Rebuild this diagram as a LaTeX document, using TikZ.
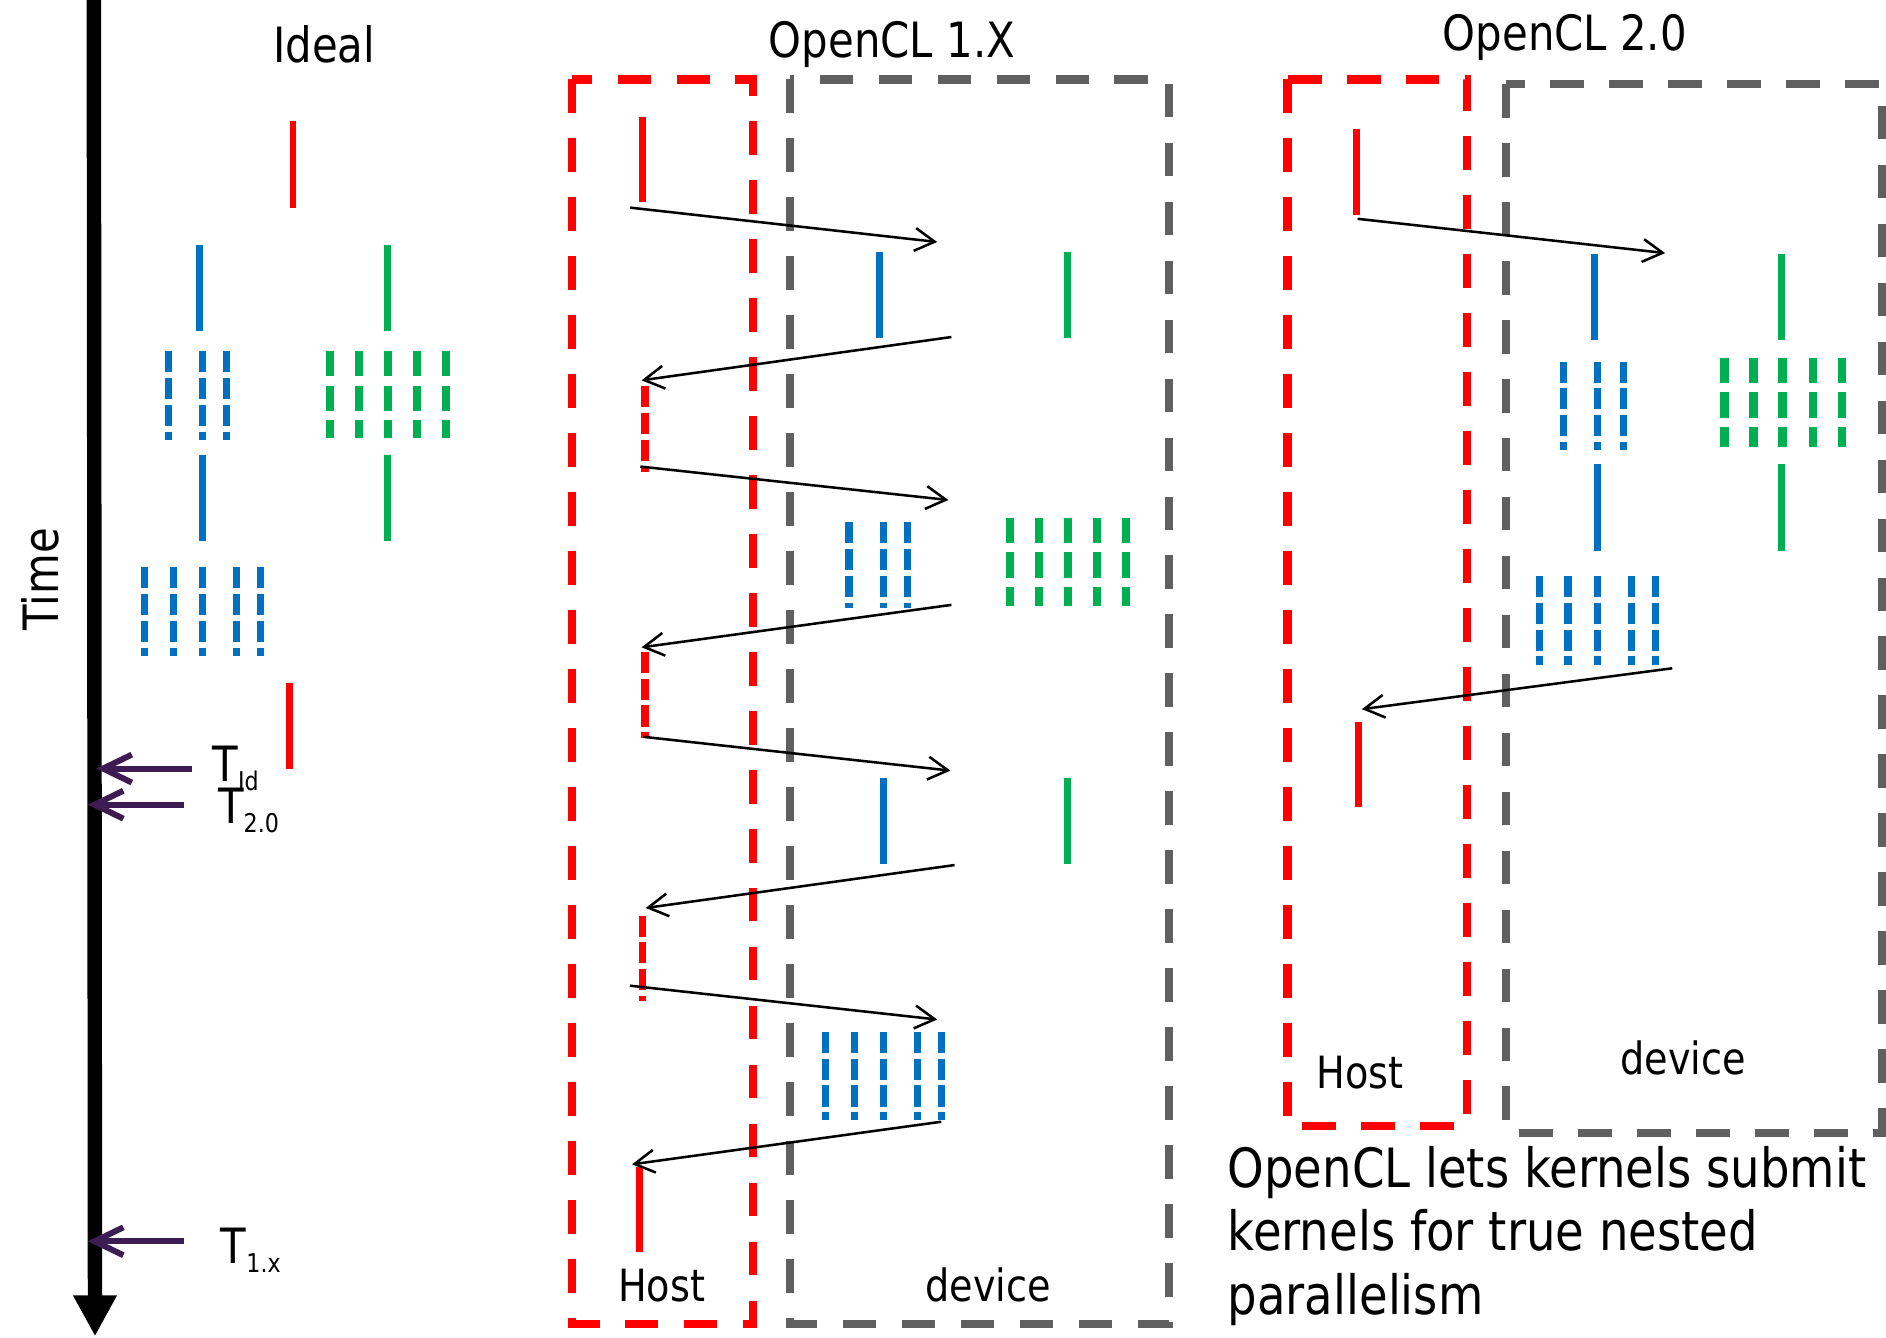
\documentclass[tikz,border=0pt]{standalone}
\usepackage{fontspec}
\setmainfont{DejaVu Sans}[FakeStretch=0.86]
\usepackage{tikz}
\usetikzlibrary{arrows.meta, positioning}

\definecolor{kred}{RGB}{255,0,0}
\definecolor{kblue}{RGB}{0,112,192}
\definecolor{kgreen}{RGB}{0,176,80}
\definecolor{boxgray}{RGB}{96,96,96}
\definecolor{tpurple}{RGB}{60,28,82}

\newcommand{\tlow}[1]{\raisebox{-0.075cm}{\fontsize{6.1}{7}\selectfont #1}}

\tikzset{
  %% Kernel bars (solid and split into work-groups)
  kbar/.style={draw=#1, line width=0.058cm},
  kbar/.default=kred,
  kdash/.style={draw=#1, line width=0.06cm,
                dash pattern=on 0.175cm off 0.048cm},
  kdash/.default=kblue,
  gdash/.style={draw=kgreen, line width=0.07cm,
                dash pattern=on 0.21cm off 0.075cm},
  %% Host / device frames
  zone/.style={draw=#1, line width=0.069cm,
               dash pattern=on 0.28cm off 0.21cm},
  zone/.default=boxgray,
  %% Launch arrow
  karr/.style={-{Straight Barb[length=4.7pt,width=5.4pt]},
               draw=black, line width=0.6pt},
  %% Finish-time marker arrow
  tarr/.style={-{Straight Barb[length=6.8pt,width=6.6pt]},
               draw=tpurple, line width=1.4pt},
  %% Time axis
  timeax/.style={-{Triangle[length=0.34cm,width=0.34cm]},
                 draw=black, line width=0.12cm},
  %% Texts
  title/.style={font=\fontsize{11.5}{13}\selectfont, inner sep=0pt,
                anchor=base},
  lab/.style={font=\fontsize{10.5}{12}\selectfont, inner sep=0pt,
              anchor=base},
  tlab/.style={font=\fontsize{11.5}{13}\selectfont, inner sep=0pt,
               anchor=base west},
}

\begin{document}
\begin{tikzpicture}[x=0.01cm, y=-0.01cm]

  \useasboundingbox (0,0) rectangle (1568,1112);

  %% Time axis and finish times
  \coordinate (ttop) at (78,-10);
  \coordinate (tbot) at (79,1111);
  \draw[timeax] (ttop) -- (tbot);
  \node[title, rotate=90] (time) at (48.5,481.5) {Time};

  \node[tlab] (tid) at (176,649.8) {T\tlow{Id}};
  \node[tlab] (ttwo) at (180.7,684.5) {T\tlow{2.0}};
  \node[tlab] (tone) at (182.9,1050.4) {T\tlow{1.x}};
  \coordinate (tida) at (159.5,639);  \coordinate (tidb) at (80,639);
  \coordinate (ttwoa) at (153,669);   \coordinate (ttwob) at (73,669);
  \coordinate (tonea) at (153,1032);  \coordinate (toneb) at (73,1032);
  \draw[tarr] (tida) -- (tidb);
  \draw[tarr] (ttwoa) -- (ttwob);
  \draw[tarr] (tonea) -- (toneb);

  %% Titles
  \node[title] (ideal) at (269.5,52) {Ideal};
  \node[title] (cl1) at (741.6,47.5) {OpenCL 1.X};
  \node[title] (cl2) at (1301,41.6) {OpenCL 2.0};

  %% Ideal
  \draw[kbar] (243.6,100.8) -- (243.6,172.6);
  \draw[kbar=kblue] (165.5,203.4) -- (165.5,275.5);
  \draw[kbar=kgreen] (322,203.4) -- (322,275.5);
  \foreach \x in {140,168.2,188.5}
    \draw[kdash] (\x,292) -- (\x,366);
  \foreach \x in {274.4,298.5,322.6,346.7,370.8}
    \draw[gdash] (\x,292) -- (\x,364);
  \draw[kbar=kblue] (168.2,378) -- (168.2,450);
  \draw[kbar=kgreen] (322,378) -- (322,450);
  \foreach \x in {120,144.1,168.2,196.8,216.7}
    \draw[kdash] (\x,471.4) -- (\x,545.5);
  \draw[kbar] (241,568) -- (241,639.6);

  %% OpenCL 1.X
  \draw[zone=kred] (475.8,66) rectangle (625.8,1101);
  \draw[zone] (657,66) rectangle (972,1101);
  \node[lab] (host1) at (550,1082) {Host};
  \node[lab] (dev1) at (821.6,1082) {device};

  \draw[kbar] (534.4,97.3) -- (534.4,167.8);
  \draw[kbar=kblue] (731.6,209.7) -- (731.6,281);
  \draw[kbar=kgreen] (887.4,209.7) -- (887.4,281);
  \draw[kdash=kred] (536.2,321) -- (536.2,392.7);
  \foreach \x in {705.8,734.4,754.3}
    \draw[kdash] (\x,434.2) -- (\x,505.5);
  \foreach \x in {839.8,864,888.1,912.2,936.3}
    \draw[gdash] (\x,430.6) -- (\x,504);
  \draw[kdash=kred] (536.2,541.9) -- (536.2,613.4);
  \draw[kbar=kblue] (734.4,646.9) -- (734.4,718.4);
  \draw[kbar=kgreen] (887.4,646.9) -- (887.4,718.4);
  \draw[kdash=kred] (534.4,761.2) -- (534.4,832.2);
  \foreach \x in {686.1,710.2,734.4,762.6,782.6}
    \draw[kdash] (\x,857.8) -- (\x,931.5);
  \draw[kbar] (531.7,970.2) -- (531.7,1041);

  \foreach \n/\a/\b in {
      a1/{523.8,172.6}/{779.2,201.2}, a2/{791,280.2}/{533.4,316.2},
      a3/{532.4,387.9}/{788.5,415.7}, a4/{791,502.9}/{533.4,538.2},
      a5/{535.1,612.6}/{790.2,640.7}, a6/{793.6,719.2}/{536.8,754.9},
      a7/{523.8,819.5}/{779.2,847.6}, a8/{782.6,932.6}/{525.5,968}} {
    \coordinate (\n s) at (\a);
    \coordinate (\n e) at (\b);
    \draw[karr] (\n s) -- (\n e);
  }

  %% OpenCL 2.0
  \draw[zone=kred] (1070.5,66) rectangle (1219.5,936.2);
  \draw[zone] (1252.3,69.8) rectangle (1564.8,941.7);
  \node[lab] (host2) at (1131,905) {Host};
  \node[lab] (dev2) at (1399.5,893.5) {device};

  \draw[kbar] (1128,107.6) -- (1128,178.9);
  \draw[kbar=kblue] (1325.3,210.8) -- (1325.3,282.8);
  \draw[kbar=kgreen] (1481.1,210.8) -- (1481.1,282.8);
  \foreach \x in {1299.9,1328.1,1349.6}
    \draw[kdash] (\x,300.6) -- (\x,374.1);
  \foreach \x in {1433.8,1457.8,1481.8,1507.2,1531.5}
    \draw[gdash] (\x,297.7) -- (\x,371.9);
  \draw[kbar=kblue] (1328.1,386) -- (1328.1,458.4);
  \draw[kbar=kgreen] (1481.1,386) -- (1481.1,458.4);
  \foreach \x in {1280,1303.7,1328.1,1356.6,1376.4}
    \draw[kdash] (\x,478.8) -- (\x,553);
  \draw[kbar] (1129.7,600.6) -- (1129.7,671);

  \coordinate (b1s) at (1128.7,181.9);  \coordinate (b1e) at (1384.4,210.4);
  \coordinate (b2s) at (1390.3,555.6);  \coordinate (b2e) at (1132.3,589.6);
  \draw[karr] (b1s) -- (b1e);
  \draw[karr] (b2s) -- (b2e);

  \node[font=\fontsize{12.8}{15.1}\selectfont, align=left, inner sep=0pt,
        anchor=north west] (nest) at (1020,952)
       {OpenCL lets kernels submit\\kernels for true nested\\parallelism};

\end{tikzpicture}
\end{document}
